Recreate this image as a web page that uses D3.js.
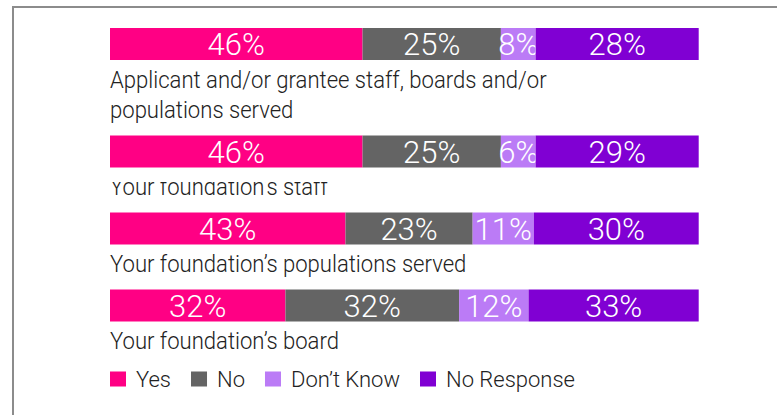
<!DOCTYPE html>
<html>
<head>
<meta charset="utf-8">
<script src="https://cdn.jsdelivr.net/npm/d3@7"></script>
<style>
  html, body { margin: 0; padding: 0; background: #fff; }
  svg { display: block; }
  text { font-family: Roboto, "Noto Sans", sans-serif; }
</style>
</head>
<body>
<svg id="chart" width="777" height="415"></svg>
<script>
// ---- Data ----
const categories = [
  "Applicant and/or grantee staff, boards and/or populations served",
  "Your foundation\u2019s staff",
  "Your foundation\u2019s populations served",
  "Your foundation\u2019s board"
];
const seriesNames = ["Yes", "No", "Don\u2019t Know", "No Response"];
// bar shares (as drawn)
const yesValues = [42.9, 42.9, 40.0, 29.8];
const noValues = [23.5, 23.5, 21.6, 29.5];
const dontKnowValues = [5.9, 5.9, 10.4, 11.8];
const noResponseValues = [27.7, 27.7, 28.0, 28.9];
// printed labels
const yesLabels = ["46%", "46%", "43%", "32%"];
const noLabels = ["25%", "25%", "23%", "32%"];
const dontKnowLabels = ["8%", "6%", "11%", "12%"];
const noResponseLabels = ["28%", "29%", "30%", "33%"];
const colors = ["#ff0084", "#646464", "#bb7bf6", "#8000d3"];

// ---- Chart ----
const svg = d3.select("#chart");
const W = 777, H = 415;

// frame
svg.append("path")
  .attr("d", `M13,${H + 5} V7 H${W + 5}`)
  .attr("fill", "none")
  .attr("stroke", "#8c8c8c")
  .attr("stroke-width", 2);

const valuesBySeries = [yesValues, noValues, dontKnowValues, noResponseValues];
const labelsBySeries = [yesLabels, noLabels, dontKnowLabels, noResponseLabels];
const keys = ["s0", "s1", "s2", "s3"];
const rows = categories.map((c, i) => {
  const r = { category: c, index: i };
  keys.forEach((k, j) => { r[k] = valuesBySeries[j][i]; });
  return r;
});
const stacked = d3.stack().keys(keys)(rows);

const x = d3.scaleLinear().domain([0, 100]).range([110, 698.7]);
const barH = 32;
const labelFont = 23.5;
const labelScale = 0.94;
const lineGap = 30.5;
const wrapWidth = 470;

// wrap category labels by measuring
const measure = svg.append("text").attr("font-size", labelFont).attr("font-weight", 300).attr("visibility", "hidden");
function wrap(str) {
  const words = str.split(" ");
  const lines = [];
  let cur = "";
  words.forEach(w => {
    const test = cur ? cur + " " + w : w;
    measure.text(test);
    if (measure.node().getComputedTextLength() > wrapWidth && cur) {
      lines.push(cur); cur = w;
    } else cur = test;
  });
  if (cur) lines.push(cur);
  return lines;
}
const wrapped = categories.map(wrap);
measure.remove();

// row top positions
const tops = [];
let yCur = 28;
wrapped.forEach((lines, i) => {
  tops.push(yCur);
  yCur += barH + 45 + lineGap * (lines.length - 1);
});

// bars
const g = svg.append("g");
stacked.forEach((layer, j) => {
  g.selectAll(null).data(layer).enter().append("rect")
    .attr("x", d => x(d[0]))
    .attr("y", (d, i) => tops[i])
    .attr("width", d => x(d[1]) - x(d[0]))
    .attr("height", barH)
    .attr("fill", colors[j]);
  g.selectAll(null).data(layer).enter().append("text")
    .attr("x", d => (x(d[0]) + x(d[1])) / 2)
    .attr("y", (d, i) => tops[i] + barH / 2 + 11)
    .attr("text-anchor", "middle")
    .attr("fill", "#fff")
    .attr("font-size", 31)
    .attr("font-weight", 300)
    .text((d, i) => labelsBySeries[j][i]);
});

// clip for the partially hidden second label (as in the source image)
svg.append("clipPath").attr("id", "clip-staff")
  .append("rect").attr("x", 0).attr("y", 182).attr("width", W).attr("height", 40);

// category labels
wrapped.forEach((lines, i) => {
  const gl = svg.append("g");
  if (i === 1) gl.attr("clip-path", "url(#clip-staff)");
  const t = gl.append("text")
    .attr("transform", `translate(110,${tops[i] + barH + 27.5}) scale(${labelScale},1)`)
    .attr("font-size", labelFont)
    .attr("font-weight", 300)
    .attr("fill", "#222");
  lines.forEach((ln, k) => {
    t.append("tspan").attr("x", 0).attr("dy", k === 0 ? 0 : lineGap).text(ln);
  });
});

// legend
const legend = svg.append("g");
let lx = 110;
const ly = 371.5;
seriesNames.forEach((name, j) => {
  legend.append("rect").attr("x", lx).attr("y", ly).attr("width", 16).attr("height", 15).attr("fill", colors[j]);
  const t = legend.append("text")
    .attr("x", lx + 26)
    .attr("y", ly + 15.5)
    .attr("font-size", 22)
    .attr("font-weight", 300)
    .attr("fill", "#222")
    .text(name);
  lx += 26 + t.node().getComputedTextLength() + 20;
});
</script>
</body>
</html>
